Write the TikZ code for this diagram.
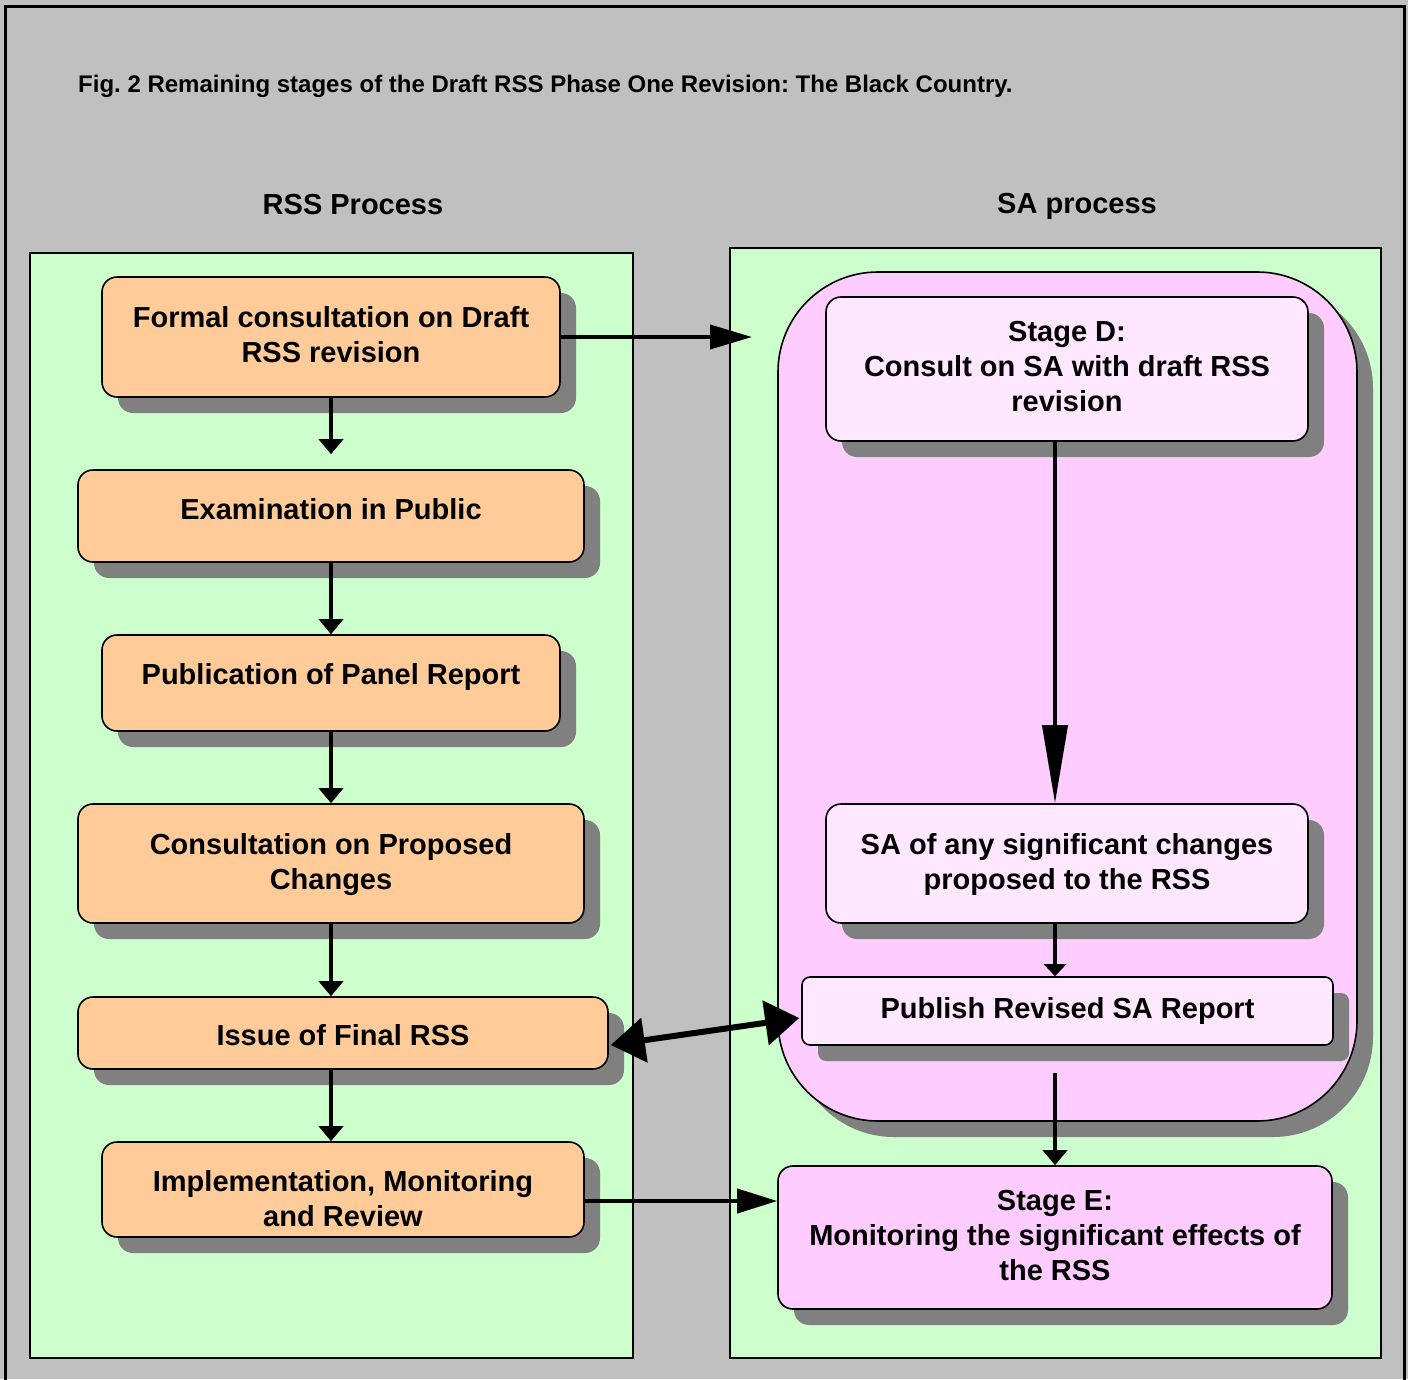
\documentclass[tikz,border=0pt]{standalone}
\usepackage{fontspec}
\setmainfont{Liberation Sans}
\usetikzlibrary{arrows.meta,shadows}
\definecolor{bggrey}{HTML}{C0C0C0}
\definecolor{panelgreen}{HTML}{CCFFCC}
\definecolor{boxorange}{HTML}{FFCC99}
\definecolor{boxpink}{HTML}{FFCCFF}
\definecolor{boxlight}{HTML}{FFE8FF}
\definecolor{shadowgrey}{HTML}{808080}
\frenchspacing
\begin{document}
\begin{tikzpicture}[x=1pt,y=-1pt,
  panel/.style={draw=black,line width=1.8pt,fill=panelgreen,inner sep=0pt},
  shad/.style={drop shadow={shadow xshift=16pt,shadow yshift=-16pt,fill=shadowgrey,opacity=1}},
  bx/.style={draw=black,line width=1.6pt,rounded corners=15pt,inner sep=0pt,shad},
  txt/.style={align=center,inner sep=0pt,font=\fontsize{29}{35}\selectfont\bfseries},
  obox/.style={bx,fill=boxorange},
  lbox/.style={bx,fill=boxlight},
  pbox/.style={bx,fill=boxpink},
  arr/.style={line width=4pt,-{Triangle[length=15pt,width=24pt]}},
  head/.style={font=\fontsize{29}{35}\selectfont\bfseries}
]
\useasboundingbox (0,0) rectangle (1408,1379);
\fill[bggrey] (0,0) rectangle (1408,1379);
\draw[line width=3.5pt] (5.5,1385) -- (5.5,6.5) -- (1404.5,6.5) -- (1404.5,1385);

\node[anchor=west,inner sep=0pt,font=\fontsize{24}{28}\selectfont\bfseries] (title) at (78,86)
  {Fig. 2 Remaining stages of the Draft RSS Phase One Revision: The Black Country.};
\node[head] (hrss) at (353,205) {RSS Process};
\node[head] (hsa) at (1077,206) {SA process};

\node[panel,minimum width=603pt,minimum height=1105pt] (lpanel) at (331.5,805.5) {};
\node[panel,minimum width=651pt,minimum height=1110pt] (rpanel) at (1055.5,803) {};

\node[draw=black,line width=1.6pt,fill=boxpink,rounded corners=100pt,minimum width=579pt,minimum height=849pt,shad] (big) at (1067.5,696.5) {};

% boxes
\node[obox,minimum width=458pt,minimum height=120pt] (formal) at (331,337) {};
\node[obox,minimum width=506pt,minimum height=92pt] (exam) at (331,516) {};
\node[obox,minimum width=458pt,minimum height=96pt] (panelrep) at (331,683) {};
\node[obox,minimum width=506pt,minimum height=119pt] (consult) at (331,863.5) {};
\node[obox,minimum width=530pt,minimum height=72pt] (issue) at (343,1033) {};
\node[obox,minimum width=482pt,minimum height=95pt] (impl) at (343,1189.5) {};

\node[lbox,minimum width=482pt,minimum height=144pt] (staged) at (1067,369) {};
\node[lbox,minimum width=482pt,minimum height=119pt] (sachg) at (1067,863.5) {};
\node[lbox,rounded corners=8pt,minimum width=531pt,minimum height=68pt] (publish) at (1067.5,1011) {};
\node[pbox,minimum width=554pt,minimum height=143pt] (stagee) at (1055,1237.5) {};

% texts
\node[txt] (formalt) at ([yshift=2pt]formal.center) {Formal consultation on Draft\\RSS revision};
\node[txt] (examt) at ([yshift=7pt]exam.center) {Examination in Public};
\node[txt] (panelrept) at ([yshift=6pt]panelrep.center) {Publication of Panel Report};
\node[txt] (consultt) at ([yshift=-1pt]consult.center) {Consultation on Proposed\\Changes};
\node[txt] (issuet) at ([yshift=-2pt]issue.center) {Issue of Final RSS};
\node[txt] (implt) at ([yshift=-9pt]impl.center) {Implementation, Monitoring\\and Review};
\node[txt] (stagedt) at ([yshift=2pt]staged.center) {Stage D:\\Consult on SA with draft RSS\\revision};
\node[txt] (sachgt) at ([yshift=-1pt]sachg.center) {SA of any significant changes\\proposed to the RSS};
\node[txt] (publisht) at (publish.center) {Publish Revised SA Report};
\node[txt] (stageet) at ([yshift=2pt]stagee.center) {Stage E:\\Monitoring the significant effects of\\the RSS};

% connectors
\draw[line width=4pt] (formal.south) -- ++(0,16);
\draw[arr] ([yshift=-16pt]formal.south) -- ([yshift=15pt]exam.north);
\draw[arr] (exam.south) -- (panelrep.north);
\draw[arr] (panelrep.south) -- (consult.north);
\draw[arr] (consult.south) -- (consult.south |- issue.north);
\draw[arr] (consult.south |- issue.south) -- (consult.south |- impl.north);

\coordinate (dtip) at (752,337);
\draw[line width=4pt,-{Triangle[length=42pt,width=24pt]}] (formal.east) -- (dtip);

\draw[line width=4pt,-{Triangle[length=78pt,width=25pt]}] ([xshift=-12pt]staged.south) -- ([xshift=-12pt]sachg.north);
\draw[line width=4pt,-{Triangle[length=12pt,width=22pt]}] ([xshift=-12pt]sachg.south) -- ([xshift=-12.5pt]publish.north);
\coordinate (pstart) at (1055,1073);
\draw[arr] (pstart) -- (stagee.north);

\draw[line width=6pt,{Triangle[length=34pt,width=44pt]}-{Triangle[length=34pt,width=44pt]}]
  ([xshift=2pt,yshift=-12pt]issue.east) -- ([xshift=-2pt,yshift=-7pt]publish.west);

\draw[line width=4pt,-{Triangle[length=40pt,width=24pt]}] (impl.east |- 0,1201) -- (stagee.west |- 0,1201);
\end{tikzpicture}
\end{document}
